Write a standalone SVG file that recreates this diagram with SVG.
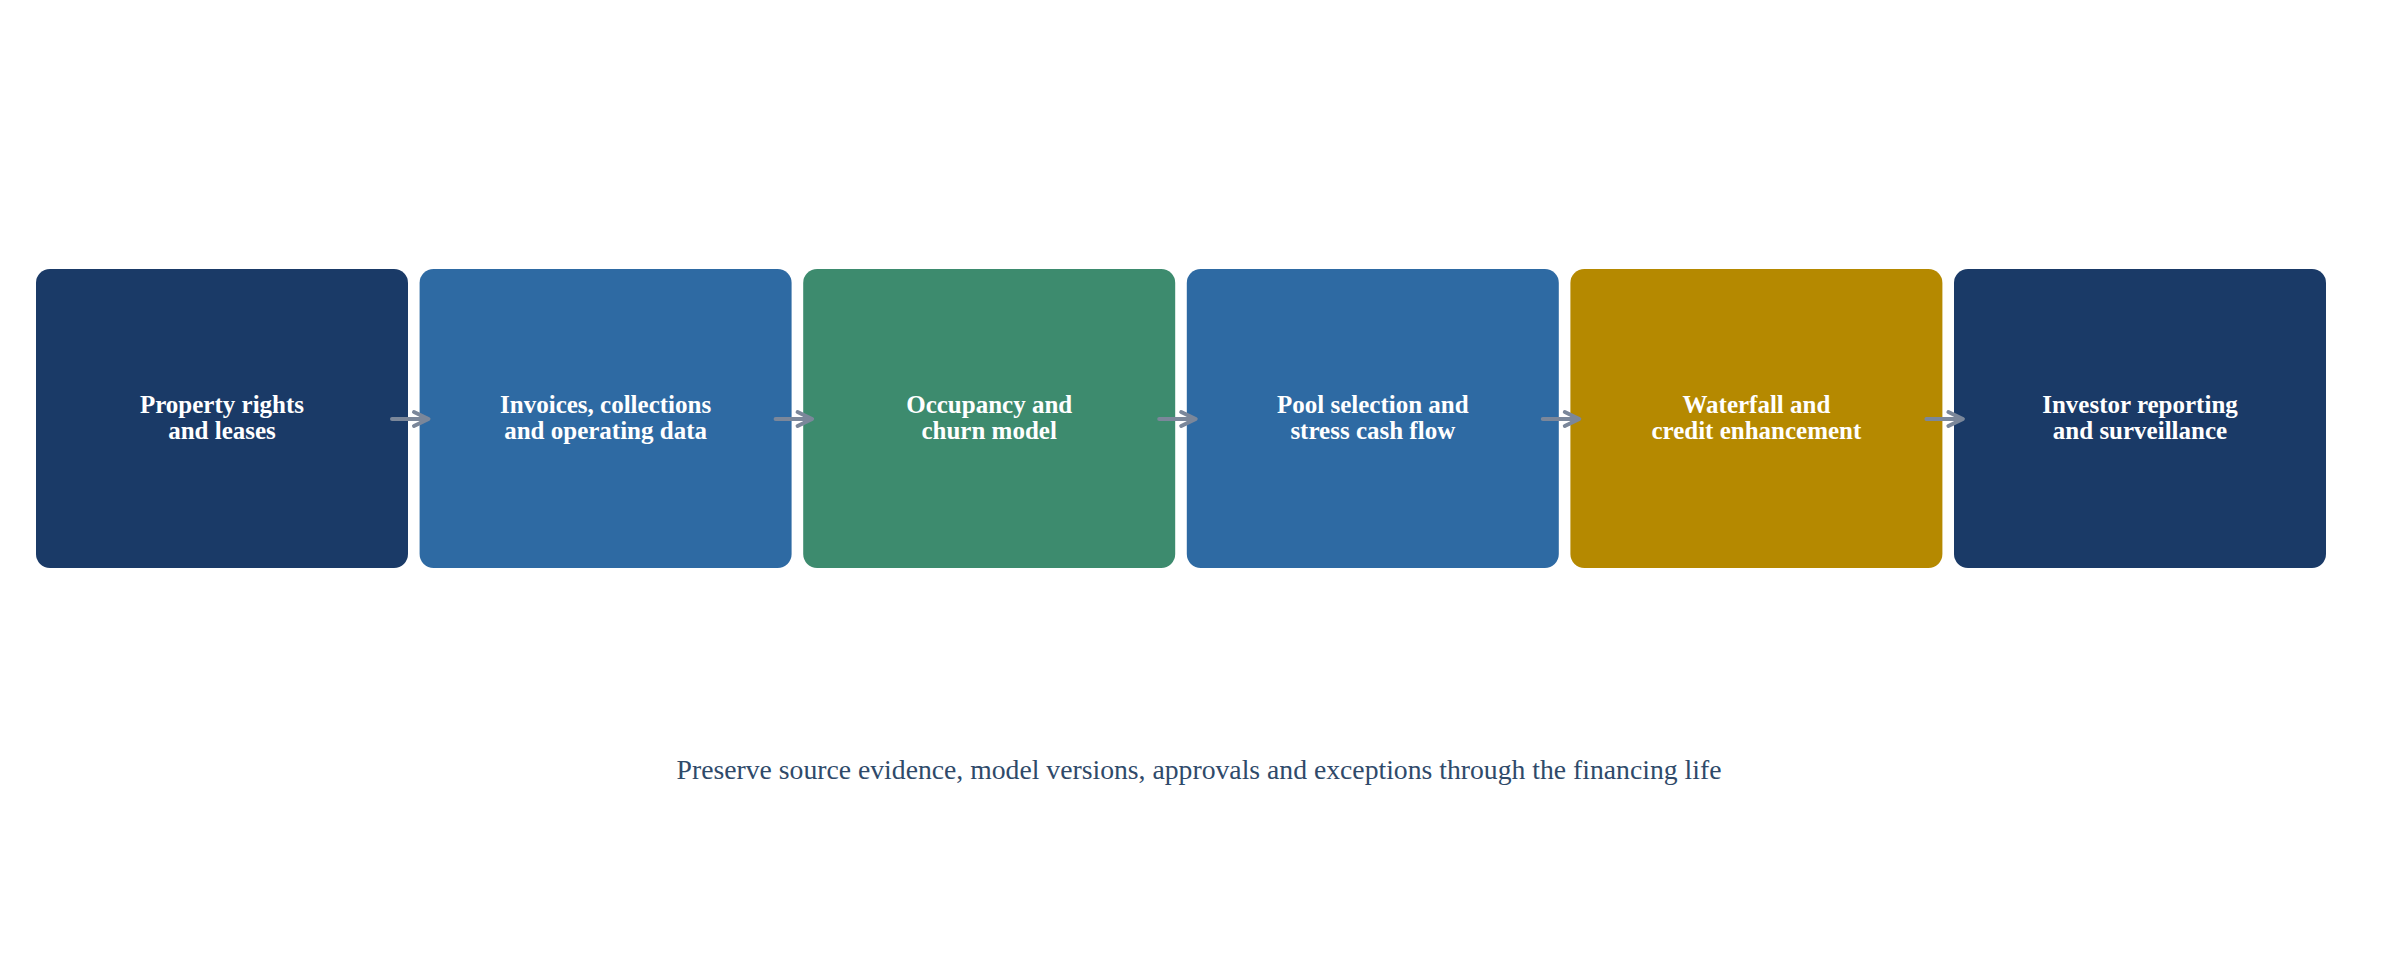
<svg xmlns="http://www.w3.org/2000/svg" width="2398" height="968" viewBox="0 0 2398 968">
<style>
.box{stroke:none}
.lbl{font-family:"Liberation Serif","Times New Roman",serif;font-weight:bold;font-size:25px;fill:#ffffff;text-anchor:middle}
.note{font-family:"Liberation Serif","Times New Roman",serif;font-size:27.7px;fill:#2f4a6a;text-anchor:middle}
.arr{fill:none;stroke:#7b879a;stroke-width:4;stroke-linecap:round;stroke-linejoin:round}
</style>
<rect width="2398" height="968" fill="#ffffff"/>
<g id="n1"><rect class="box" x="36" y="269" width="372" height="299" rx="14" fill="#1a3a67"/><text class="lbl" x="222" y="413">Property rights</text><text class="lbl" x="222" y="439">and leases</text></g>
<g id="n2"><rect class="box" x="419.6" y="269" width="372" height="299" rx="14" fill="#2e6aa3"/><text class="lbl" x="605.6" y="413">Invoices, collections</text><text class="lbl" x="605.6" y="439">and operating data</text></g>
<g id="n3"><rect class="box" x="803.2" y="269" width="372" height="299" rx="14" fill="#3d8b6e"/><text class="lbl" x="989.2" y="413">Occupancy and</text><text class="lbl" x="989.2" y="439">churn model</text></g>
<g id="n4"><rect class="box" x="1186.8" y="269" width="372" height="299" rx="14" fill="#2e6aa3"/><text class="lbl" x="1372.8" y="413">Pool selection and</text><text class="lbl" x="1372.8" y="439">stress cash flow</text></g>
<g id="n5"><rect class="box" x="1570.4" y="269" width="372" height="299" rx="14" fill="#b58900"/><text class="lbl" x="1756.4" y="413">Waterfall and</text><text class="lbl" x="1756.4" y="439">credit enhancement</text></g>
<g id="n6"><rect class="box" x="1954" y="269" width="372" height="299" rx="14" fill="#1a3a67"/><text class="lbl" x="2140" y="413">Investor reporting</text><text class="lbl" x="2140" y="439">and surveillance</text></g>
<g id="connectors">
<path class="arr" d="M392,419 H428 M414,412 L428.5,419 L414,426"/>
<path class="arr" d="M775.6,419 H811.6 M797.6,412 L812.1,419 L797.6,426"/>
<path class="arr" d="M1159.2,419 H1195.2 M1181.2,412 L1195.7,419 L1181.2,426"/>
<path class="arr" d="M1542.8,419 H1578.8 M1564.8,412 L1579.3,419 L1564.8,426"/>
<path class="arr" d="M1926.4,419 H1962.4 M1948.4,412 L1962.9,419 L1948.4,426"/>
</g>
<text class="note" x="1199" y="779">Preserve source evidence, model versions, approvals and exceptions through the financing life</text>
</svg>
